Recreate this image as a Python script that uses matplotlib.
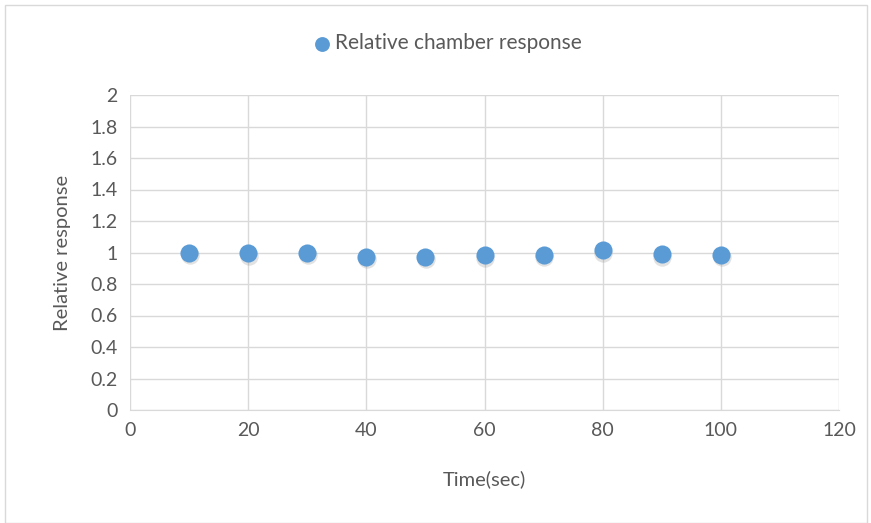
import matplotlib
matplotlib.use("Agg")
import matplotlib.pyplot as plt
import matplotlib.transforms as mtransforms
from matplotlib.patches import Rectangle

# data
time_sec = [10, 20, 30, 40, 50, 60, 70, 80, 90, 100]
rel_response = [0.998, 0.995, 1.0, 0.972, 0.972, 0.983, 0.987, 1.015, 0.99, 0.987]
x_ticks = [0, 20, 40, 60, 80, 100, 120]
y_ticks = [0, 0.2, 0.4, 0.6, 0.8, 1, 1.2, 1.4, 1.6, 1.8, 2]
y_labels = ["0", "0.2", "0.4", "0.6", "0.8", "1", "1.2", "1.4", "1.6", "1.8", "2"]

text_col = "#595959"
grid_col = "#D9D9D9"
blue = "#5B9BD5"

plt.rcParams["font.family"] = ["Lato", "DejaVu Sans"]

fig = plt.figure(figsize=(8.71, 5.23), dpi=100)
ax = fig.add_axes([130 / 871, 1 - 410 / 523, (839 - 130) / 871, (410 - 95) / 523])

# outer chart frame
fig.patches.append(Rectangle((5 / 871, 0), 862 / 871, 1 - 5 / 523,
                             transform=fig.transFigure, fill=False,
                             edgecolor="#D9D9D9", linewidth=1))

# soft shadow under markers
shadow = mtransforms.offset_copy(ax.transData, fig=fig, x=0.5, y=-1.8, units="points")
ax.scatter(time_sec, rel_response, s=175, color="#8c8c8c", alpha=0.25,
           linewidths=0, transform=shadow, zorder=2)
ax.scatter(time_sec, rel_response, s=170, color=blue, linewidths=0,
           zorder=3, label="Relative chamber response")

ax.set_xlim(0, 120)
ax.set_ylim(0, 2)
ax.set_xticks(x_ticks)
ax.set_yticks(y_ticks)
ax.set_yticklabels(y_labels)
ax.grid(True, color=grid_col, linewidth=1)
ax.set_axisbelow(True)
for s in ["top", "right", "left"]:
    ax.spines[s].set_visible(False)
ax.spines["bottom"].set_color(grid_col)
ax.tick_params(length=0, labelsize=14, colors=text_col, pad=9)

ax.set_xlabel("Time(sec)", fontsize=14.5, color=text_col, labelpad=22)
ax.set_ylabel("Relative response", fontsize=14.5, color=text_col, labelpad=14)

fig.legend(loc="center", bbox_to_anchor=(0.513, 1 - 43 / 523), frameon=False,
           fontsize=15, labelcolor=text_col, handletextpad=0.1,
           handlelength=1.0, markerscale=0.82)

fig.savefig("out.png", dpi=100)
